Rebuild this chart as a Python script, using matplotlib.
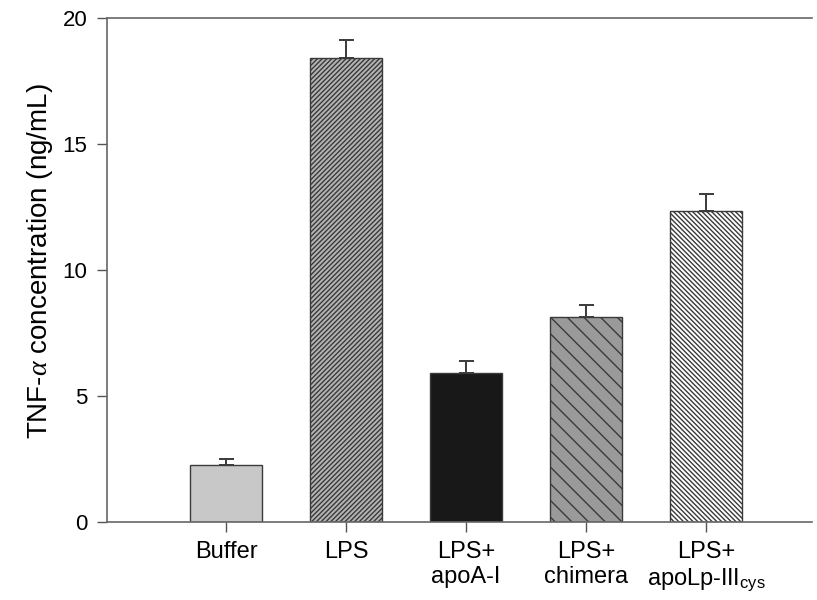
import matplotlib
matplotlib.use("Agg")
import matplotlib.pyplot as plt
import numpy as np

plt.rcParams['font.family'] = ['Liberation Sans', 'DejaVu Sans']
plt.rcParams['mathtext.fontset'] = 'custom'
plt.rcParams['mathtext.rm'] = 'Liberation Sans'
plt.rcParams['mathtext.it'] = 'Liberation Serif:italic'
plt.rcParams['hatch.linewidth'] = 1.0

categories = ["Buffer", "LPS", "LPS+\napoA-I", "LPS+\nchimera", "LPS+\napoLp-III$_{\\mathrm{cys}}$"]
values = [2.26, 18.43, 5.92, 8.15, 12.33]
errors = [0.24, 0.68, 0.48, 0.48, 0.67]
facecolors = ["#c8c8c8", "#b4b4b4", "#181818", "#9a9a9a", "#ffffff"]
hatches = ["", "/" * 7, "", "\\" * 2, "\\" * 7]
yticks = [0, 5, 10, 15, 20]

fig = plt.figure(figsize=(8.17, 6.0), dpi=100)
ax = fig.add_axes([0.131, 0.13, 0.863, 0.84])

x = np.arange(len(categories))
for i in range(len(categories)):
    ax.bar(x[i], values[i], width=0.6, color=facecolors[i], edgecolor="#3a3a3a",
           linewidth=1.0, hatch=hatches[i], zorder=2)
ax.errorbar(x, values, yerr=[np.zeros(len(values)), errors], fmt="none",
            ecolor="#3a3a3a", elinewidth=1.4, capsize=5.4, capthick=1.4, zorder=1)

ax.set_xlim(-0.99, 4.88)
ax.set_ylim(0, 20)
ax.set_yticks(yticks)
ax.set_xticks(x)
ax.set_xticklabels(categories, fontsize=17, linespacing=1.15)
ax.tick_params(axis='y', labelsize=16, length=7, width=1.0, color="#555555", pad=7, direction='out')
ax.tick_params(axis='x', length=7, width=1.0, color="#555555", pad=7, direction='out')
ax.set_ylabel(r"TNF-$\alpha$ concentration (ng/mL)", fontsize=20)
ax.yaxis.set_label_coords(-0.074, 0.518)

for s in ["left", "bottom", "top"]:
    ax.spines[s].set_color("#666666")
    ax.spines[s].set_linewidth(1.2)
ax.spines["right"].set_visible(False)

fig.savefig("out.png", dpi=100)
